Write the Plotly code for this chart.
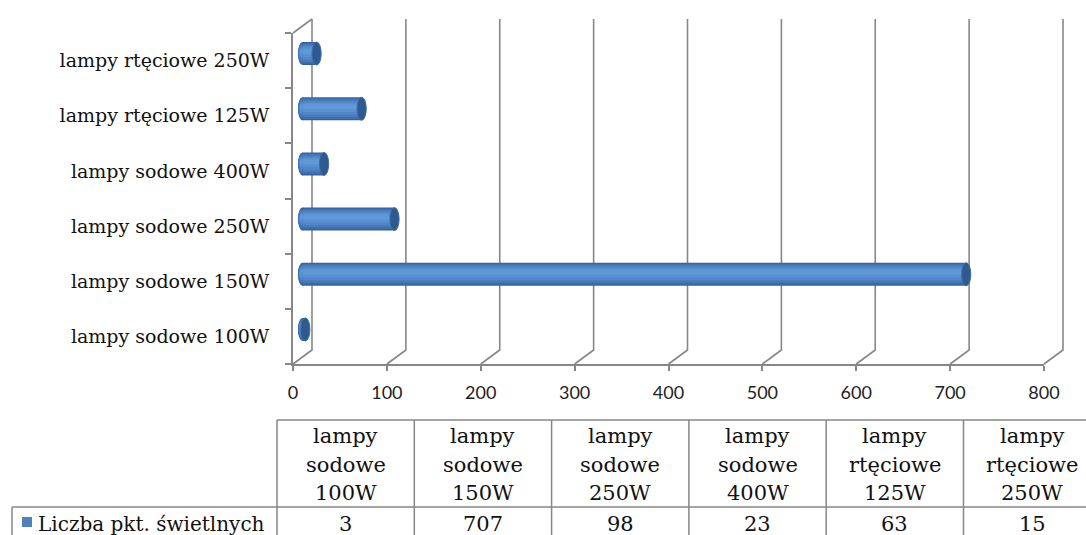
import plotly.graph_objects as go

# ---------------- data ----------------
categories = ["lampy sodowe 100W", "lampy sodowe 150W", "lampy sodowe 250W",
              "lampy sodowe 400W", "lampy rtęciowe 125W", "lampy rtęciowe 250W"]
values = [3, 707, 98, 23, 63, 15]
series_name = "Liczba pkt. świetlnych"
x_ticks = [0, 100, 200, 300, 400, 500, 600, 700, 800]

# ---------------- geometry (pixels) ----------------
W, H = 1086, 535
FX0, FX1 = 293, 1044      # front x axis 0 .. 800
FYB, FYT = 364, 33        # front category axis bottom/top
DDX, DDY = 19, 14         # 3-D depth offset
XMAX = 800
NCAT = len(categories)
PAD = 4                   # px padding around wall frame

def px(x):
    return x / W

def py(y):
    return 1 - y / H

ux = (FX1 - FX0) / XMAX            # px per value unit
uy = (FYB - FYT) / NCAT            # px per category
dxu = DDX / ux
dyu = DDY / uy

GRID = "#878787"
SERIF = "DejaVu Serif"
SANS = "Lato"

fig = go.Figure()

# ---- walls: back gridlines + floor diagonals + top-left edge (x/y frame) ----
y_lo, y_hi = -0.5, NCAT - 0.5
lx, ly = [], []
for v in x_ticks:
    lx += [v, v + dxu, v + dxu, None]
    ly += [y_lo, y_lo + dyu, y_hi + dyu, None]
lx += [0, dxu, None]
ly += [y_hi, y_hi + dyu, None]
fig.add_trace(go.Scatter(x=lx, y=ly, mode="lines", line=dict(color=GRID, width=1.6),
                         hoverinfo="skip", xaxis="x", yaxis="y"))

# ---- cylinders (mid plane, x2/y2) ----
ypos = list(range(NCAT))
bar_h = 0.417
layers = [
    (0.417, 0.0, "#33609a"),
    (0.38, 0.004, "#3d6eab"),
    (0.32, 0.01, "#477bbb"),
    (0.25, 0.016, "#5087c8"),
    (0.17, 0.025, "#5890d3"),
    (0.09, 0.035, "#6099da"),
]
for w, off, col in layers:
    fig.add_trace(go.Bar(x=values, y=ypos, orientation="h", width=w,
                         offset=-w / 2 + off, marker=dict(color=col, line=dict(width=0)),
                         hoverinfo="skip", xaxis="x2", yaxis="y2"))

# ---- front axes helper trace (x3/y3) ----
fig.add_trace(go.Scatter(x=[0], y=[0], mode="markers", marker=dict(opacity=0),
                         hoverinfo="skip", xaxis="x3", yaxis="y3"))

shapes = []
cap_rx = 4.6 / ux
cap_ry = bar_h / 2
for i, v in enumerate(values):
    # left rounded end, shaded like the body
    for w, off, col in layers:
        rx = cap_rx * (w / bar_h) ** 0.5
        shapes.append(dict(type="circle", xref="x2", yref="y2", layer="below",
                           x0=-rx, x1=rx, y0=i + off - w / 2, y1=i + off + w / 2,
                           fillcolor=col, line=dict(width=0)))
    # right end cap
    shapes.append(dict(type="circle", xref="x2", yref="y2", layer="above",
                       x0=v - cap_rx, x1=v + cap_rx, y0=i - cap_ry, y1=i + cap_ry,
                       fillcolor="#2e5a90", line=dict(color="#3e6ca5", width=1)))

# ---------------- data table ----------------
T_TOP, T_MID, T_BOT = 420, 507, 560
T_LEFT, T_LABEL = 277, 12
COLW = 137.3
cols = [T_LEFT + COLW * i for i in range(NCAT + 1)]

def hline(x0, x1, y):
    return dict(type="line", xref="paper", yref="paper", x0=px(x0), x1=px(x1),
                y0=py(y), y1=py(y), line=dict(color=GRID, width=1.5), layer="above")

def vline(x, y0, y1):
    return dict(type="line", xref="paper", yref="paper", x0=px(x), x1=px(x),
                y0=py(y0), y1=py(y1), line=dict(color=GRID, width=1.5), layer="above")

shapes.append(hline(T_LEFT, cols[-1], T_TOP))
shapes.append(hline(T_LABEL, cols[-1], T_MID))
shapes.append(hline(T_LABEL, cols[-1], T_BOT))
shapes.append(vline(T_LABEL, T_MID, T_BOT))
for c in cols:
    shapes.append(vline(c, T_TOP, T_BOT))

# legend key
shapes.append(dict(type="rect", xref="paper", yref="paper", x0=px(22), x1=px(32),
                   y0=py(527), y1=py(517), fillcolor="#4f81bd", line=dict(width=0)))

annotations = []
HFONT = dict(family=SERIF, size=21, color="#111111")
LFONT = dict(family=SERIF, size=20, color="#111111")
line_y = [436, 465, 493]
for i, cat in enumerate(categories):
    cx = (cols[i] + cols[i + 1]) / 2
    for j, word in enumerate(cat.split(" ")):
        annotations.append(dict(xref="paper", yref="paper", x=px(cx), y=py(line_y[j]),
                                text=word, showarrow=False, xanchor="center",
                                yanchor="middle", font=HFONT))
    annotations.append(dict(xref="paper", yref="paper", x=px(cx), y=py(524),
                            text=str(values[i]), showarrow=False, xanchor="center",
                            yanchor="middle", font=HFONT))
annotations.append(dict(xref="paper", yref="paper", x=px(36), y=py(524),
                        text=series_name, showarrow=False, xanchor="left",
                        yanchor="middle", font=LFONT))

# ---------------- layout ----------------
XNEG = 12   # value units of room left of zero on the cylinder plane (for the rounded end)
fig.update_layout(
    width=W, height=H, autosize=False,
    margin=dict(l=0, r=0, t=0, b=0, pad=0, autoexpand=False),
    paper_bgcolor="white", plot_bgcolor="rgba(0,0,0,0)",
    barmode="overlay", showlegend=False,
    shapes=shapes, annotations=annotations,
    # wall frame (same scale as the front axes, extended by depth + padding)
    xaxis=dict(domain=[px(FX0 - PAD), px(FX1 + DDX + PAD)],
               range=[-PAD / ux, XMAX + dxu + PAD / ux], anchor="y", visible=False),
    yaxis=dict(domain=[py(FYB + PAD), py(FYT - DDY - PAD)],
               range=[y_lo - PAD / uy, y_hi + dyu + PAD / uy], anchor="x", visible=False),
    # mid plane (cylinders)
    xaxis2=dict(domain=[px(FX0 + DDX / 2 - XNEG * ux), px(FX1 + DDX / 2)],
                range=[-XNEG, XMAX], anchor="y2", visible=False),
    yaxis2=dict(domain=[py(FYB - DDY / 2), py(FYT - DDY / 2)], range=[y_lo, y_hi],
                anchor="x2", visible=False),
    # front plane (axis lines, ticks, labels)
    xaxis3=dict(domain=[px(FX0), px(FX1)], range=[0, XMAX], anchor="y3",
                tickvals=x_ticks, ticks="outside", ticklen=5, tickcolor=GRID, tickwidth=1.5,
                showline=True, linecolor=GRID, linewidth=1.6, showgrid=False, zeroline=False,
                ticklabelstandoff=7, automargin=False,
                tickfont=dict(family=SANS, size=18, color="#222222")),
    yaxis3=dict(domain=[py(FYB), py(FYT)], range=[y_lo, y_hi], anchor="x3",
                tickvals=list(range(NCAT)), ticktext=categories,
                ticks="", showline=True, linecolor=GRID, linewidth=1.6, showgrid=False,
                zeroline=False, ticklabelstandoff=18, automargin=False,
                minor=dict(tickvals=[k - 0.5 for k in range(NCAT + 1)], ticks="outside",
                           ticklen=6, tickcolor=GRID, tickwidth=1.5, showgrid=False),
                tickfont=dict(family=SERIF, size=19, color="#111111")),
)

fig.write_html(
    "out.html",
    config={"displayModeBar": False, "responsive": False},
    post_script=("document.documentElement.style.margin='0';"
                 "document.documentElement.style.overflow='hidden';"
                 "document.body.style.margin='0';"
                 "document.body.style.overflow='hidden';"),
)
